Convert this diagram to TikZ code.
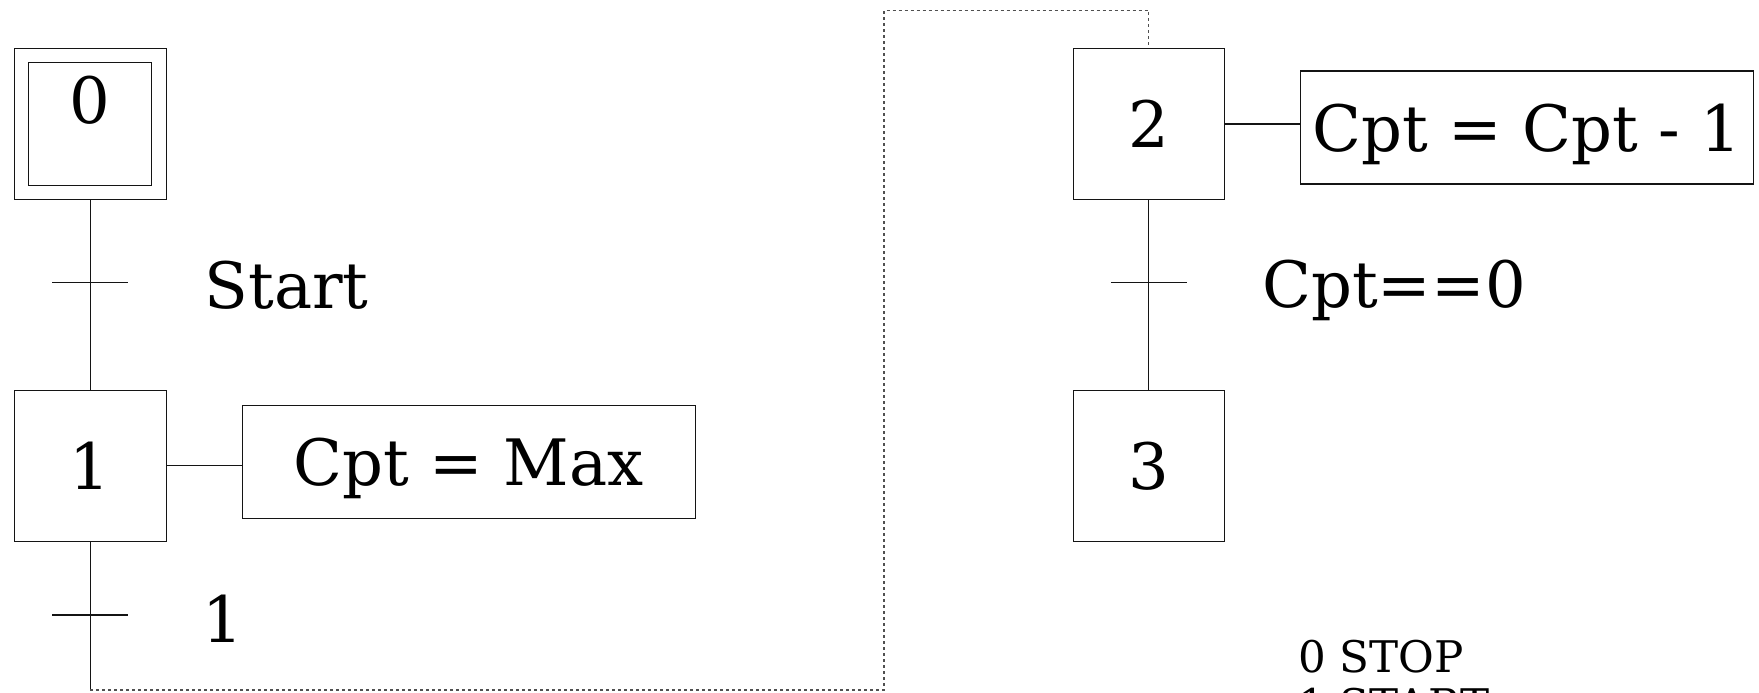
\documentclass[tikz,border=0pt]{standalone}
\usepackage{fontspec}
\setmainfont{DejaVu Serif}
\usepackage{tikz}
\usetikzlibrary{
  positioning,
  calc
}
\definecolor{grafline}{RGB}{20,20,20}
\definecolor{loopgray}{RGB}{80,80,80}
\newcommand{\bigtxt}{\fontsize{32}{38}\selectfont}
\newcommand{\legtxt}{\fontsize{21.8}{24}\selectfont}

\begin{document}
\begin{tikzpicture}[
  x=0.5pt, y=-0.5pt,
  stepbox/.style={draw=grafline, line width=0.55pt, minimum size=75.75pt, inner sep=0pt, text depth=0pt, font=\bigtxt},
  initbox/.style={draw=grafline, line width=0.55pt, minimum size=61.5pt, inner sep=0pt},
  actbox/.style={draw=grafline, line width=0.55pt, minimum width=226.5pt, minimum height=56.5pt, inner sep=0pt, text depth=0pt, font=\bigtxt},
  tbar/.style={minimum width=37.5pt, minimum height=0pt, inner sep=0pt},
  cond/.style={inner sep=0pt, anchor=base west, font=\bigtxt},
  legend/.style={inner sep=0pt, anchor=base west, font=\legtxt},
  link/.style={draw=grafline, line width=0.55pt},
  loopback/.style={draw=loopgray, line width=0.55pt, dash pattern=on 1.5pt off 1.5pt},
  node distance=94.65pt
]
  \clip (0,0) rectangle (1759,692);

  % left branch
  \node[stepbox] (s0) at (90.3,124) {};
  \node[initbox] (s0in) at (s0.center) {};
  \node[inner sep=0pt, anchor=base, font=\bigtxt] (n0) at ([yshift=0.5pt]s0.center) {0};
  \node[stepbox, below=of s0] (s1) {1};
  \node[actbox, right=37.5pt of s1, yshift=2pt] (a1) {Cpt = Max};
  \node[tbar] (t0) at (90.3,282.7) {};
  \node[tbar] (t1) at (90.3,615) {};
  \node[cond] (c0) at ([xshift=38pt,yshift=-12.9pt]t0.east) {Start};
  \node[cond] (c1) at ([xshift=37pt,yshift=-13.8pt]t1.east) {1};
  \coordinate (lb) at (90.3,690);
  \coordinate (lt) at (884,10.3);

  % right branch
  \node[stepbox] (s2) at (1148.8,124) {2};
  \node[stepbox, below=of s2] (s3) {3};
  \node[actbox, right=37.5pt of s2, yshift=-1.75pt] (a2) {Cpt = Cpt - 1};
  \node[tbar] (t2) at (1148.8,282.5) {};
  \node[cond] (c2) at ([xshift=37.5pt,yshift=-12.4pt]t2.east) {Cpt==0};

  % legend
  \node[legend] (l0) at (1298,672.7) {0 STOP};
  \node[legend] (l1) at (1298,720.7) {1 START};

  % links
  \draw[link] (s0.south) -- (s1.north);
  \draw[link] (s1.south) -- (lb);
  \draw[loopback] (lb) -| (lt) -| (s2.north);
  \draw[link] (s1.east) -- (s1.east -| a1.west);
  \draw[link] (s2.east) -- (s2.east -| a2.west);
  \draw[link] (s2.south) -- (s3.north);
  \foreach \t in {t0,t1,t2}
    \draw[link] (\t.west) -- (\t.east);
\end{tikzpicture}
\end{document}
